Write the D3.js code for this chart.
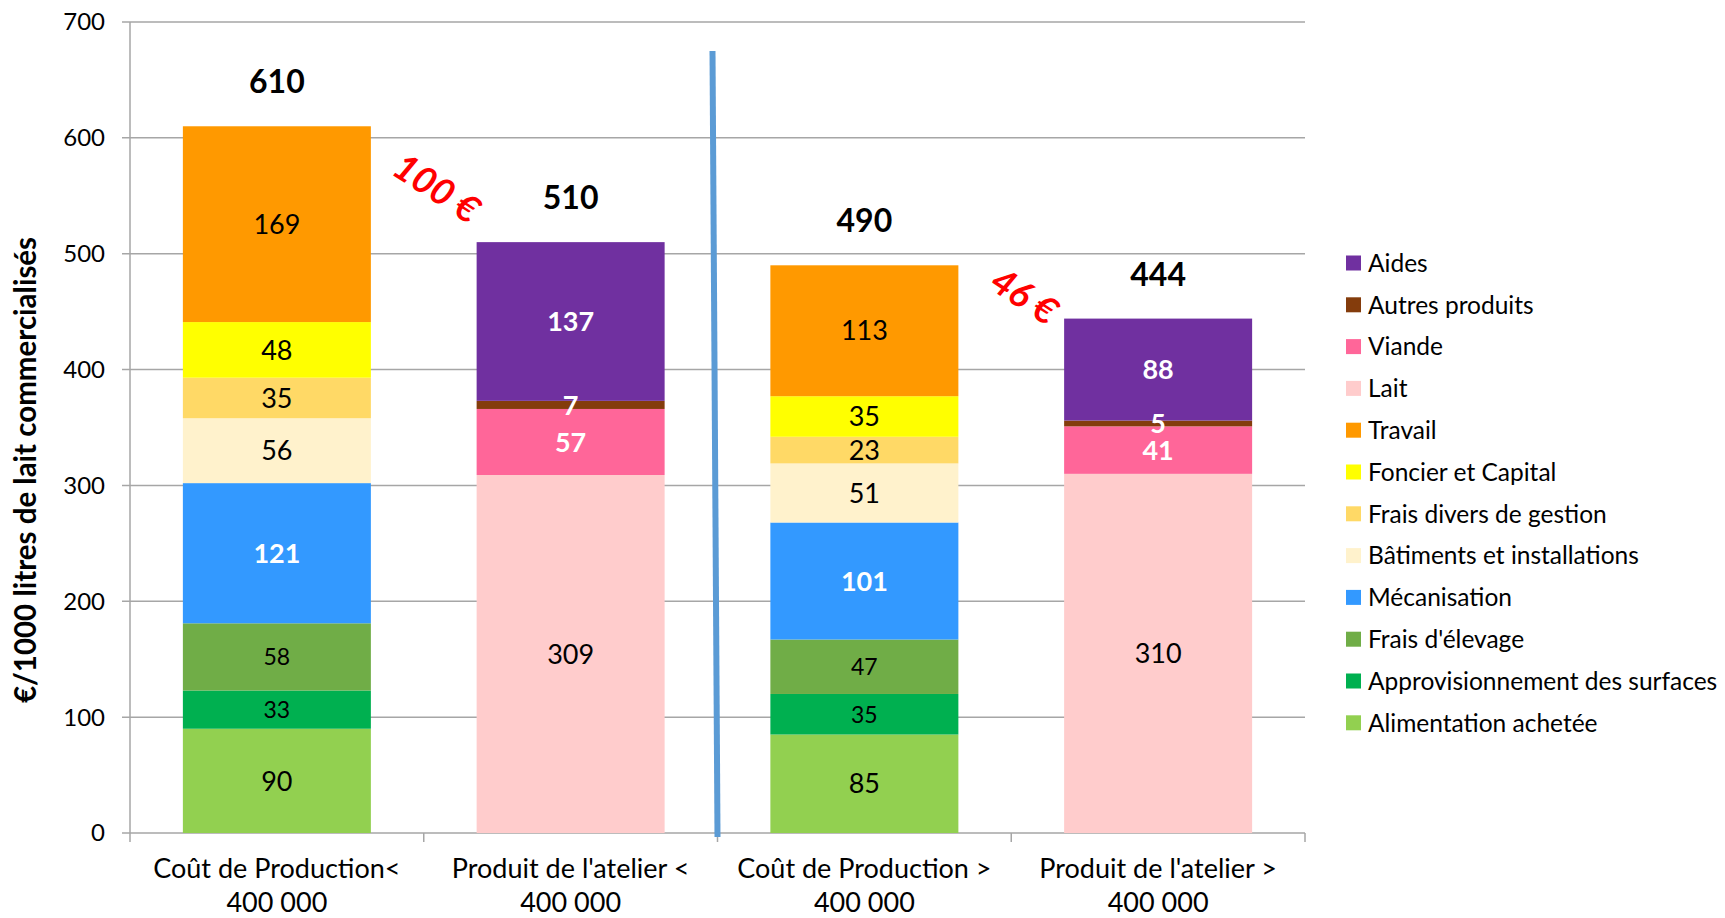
<!DOCTYPE html>
<html>
<head>
<meta charset="utf-8">
<script src="https://cdn.jsdelivr.net/npm/d3@7"></script>
<style>
	body { margin: 0; background: #fff; }
	text { font-family: Lato, "Open Sans", sans-serif; }
</style>
</head>
<body>
<div id="chart"></div>
<script>
// categories (two lines each, split on "|")
var categories = ["Coût de Production<|400 000", "Produit de l'atelier <|400 000", "Coût de Production >|400 000", "Produit de l'atelier >|400 000"];

// series, bottom of the stack first
var seriesNames = ["Alimentation achetée", "Approvisionnement des surfaces", "Frais d'élevage", "Mécanisation",
	"Bâtiments et installations", "Frais divers de gestion", "Foncier et Capital", "Travail",
	"Lait", "Viande", "Autres produits", "Aides"];
var seriesColors = ["#92d050", "#00b050", "#70ad47", "#3399ff", "#fff2cc", "#ffd966", "#ffff00", "#ff9900",
	"#ffcccc", "#ff6699", "#843c0c", "#7030a0"];

var alimentation = [90, 0, 85, 0];
var approvisionnement = [33, 0, 35, 0];
var fraisElevage = [58, 0, 47, 0];
var mecanisation = [121, 0, 101, 0];
var batiments = [56, 0, 51, 0];
var fraisDivers = [35, 0, 23, 0];
var foncier = [48, 0, 35, 0];
var travail = [169, 0, 113, 0];
var lait = [0, 309, 0, 310];
var viande = [0, 57, 0, 41];
var autres = [0, 7, 0, 5];
var aides = [0, 137, 0, 88];

var yTicks = [0, 100, 200, 300, 400, 500, 600, 700];

// labels drawn white/bold, or smaller
var whiteSeries = ["Mécanisation", "Viande", "Autres produits", "Aides"];
var smallSeries = ["Approvisionnement des surfaces", "Frais d'élevage"];

var seriesValues = [alimentation, approvisionnement, fraisElevage, mecanisation, batiments, fraisDivers,
	foncier, travail, lait, viande, autres, aides];

var width = 1725, height = 918;
var margin = {left: 130, right: 420, top: 22, bottom: 85};

var svg = d3.select("#chart").append("svg")
	.attr("width", width)
	.attr("height", height);

var x = d3.scaleBand()
	.domain(categories)
	.range([margin.left, width - margin.right])
	.paddingInner(0.36)
	.paddingOuter(0.18);

var y = d3.scaleLinear()
	.domain([0, 700])
	.range([height - margin.bottom, margin.top]);

// table for the stack
var table = categories.map(function(c, i) {
	var row = {cat: c};
	seriesNames.forEach(function(s, j) { row[s] = seriesValues[j][i]; });
	return row;
});
var stacked = d3.stack().keys(seriesNames)(table);
var totals = table.map(function(r) { return d3.sum(seriesNames, function(s) { return r[s]; }); });

// grid
svg.append("g")
	.selectAll("line")
	.data(yTicks)
	.enter().append("line")
	.attr("x1", margin.left - 8)
	.attr("x2", width - margin.right)
	.attr("y1", d => y(d))
	.attr("y2", d => y(d))
	.attr("stroke", "#a6a6a6")
	.attr("stroke-width", 1.5);

svg.append("line")
	.attr("x1", margin.left).attr("x2", margin.left)
	.attr("y1", y(700)).attr("y2", y(0))
	.attr("stroke", "#a6a6a6").attr("stroke-width", 1.5);

// y tick labels
svg.append("g")
	.selectAll("text")
	.data(yTicks)
	.enter().append("text")
	.attr("x", margin.left - 25)
	.attr("y", d => y(d))
	.attr("dy", "0.35em")
	.attr("text-anchor", "end")
	.style("font-size", "24px")
	.style("fill", "#000")
	.text(d => d);

// x category boundary ticks
var step = x.step();
var bounds = d3.range(categories.length + 1).map(i => margin.left + i * step);
svg.append("g")
	.selectAll("line")
	.data(bounds)
	.enter().append("line")
	.attr("x1", d => d).attr("x2", d => d)
	.attr("y1", y(0)).attr("y2", y(0) + 9)
	.attr("stroke", "#a6a6a6").attr("stroke-width", 1.5);

// bars
var layer = svg.append("g")
	.selectAll("g")
	.data(stacked)
	.enter().append("g")
	.attr("fill", (d, i) => seriesColors[i]);

layer.selectAll("rect")
	.data(d => d.filter(p => p[1] - p[0] > 0))
	.enter().append("rect")
	.attr("x", d => x(d.data.cat))
	.attr("width", x.bandwidth())
	.attr("y", d => y(d[1]))
	.attr("height", d => y(d[0]) - y(d[1]));

// segment labels
stacked.forEach(function(s) {
	var isWhite = whiteSeries.indexOf(s.key) >= 0;
	var isSmall = smallSeries.indexOf(s.key) >= 0;
	svg.append("g")
		.selectAll("text")
		.data(s.filter(p => p[1] - p[0] > 0))
		.enter().append("text")
		.attr("x", d => x(d.data.cat) + x.bandwidth() / 2)
		.attr("y", d => y((d[0] + d[1]) / 2))
		.attr("dy", "0.36em")
		.attr("text-anchor", "middle")
		.style("font-size", isSmall ? "23px" : "27px")
		.style("font-weight", isWhite ? "bold" : "normal")
		.style("fill", isWhite ? "#fff" : "#000")
		.text(d => d[1] - d[0]);
});

// totals
svg.append("g")
	.selectAll("text")
	.data(totals)
	.enter().append("text")
	.attr("x", (d, i) => x(categories[i]) + x.bandwidth() / 2)
	.attr("y", d => y(d) - 33)
	.attr("text-anchor", "middle")
	.style("font-size", "32px")
	.style("font-weight", "bold")
	.style("fill", "#000")
	.text(d => d);

// difference annotations
[[0, 1], [2, 3]].forEach(function(pair) {
	var a = totals[pair[0]], b = totals[pair[1]];
	var cx = bounds[pair[1]] + 13;
	var cy = y((a + b) / 2) + 4;
	svg.append("text")
		.attr("transform", "translate(" + cx + "," + cy + ") rotate(33)")
		.attr("text-anchor", "middle")
		.attr("dy", "0.35em")
		.style("font-size", "37px")
		.style("font-weight", "bold")
		.style("font-style", "italic")
		.style("fill", "#ff0000")
		.text((a - b) + " €");
});

// divider line between the two groups
var mid = bounds[2];
svg.append("line")
	.attr("x1", mid - 5).attr("y1", y(675))
	.attr("x2", mid).attr("y2", y(0) + 4)
	.attr("stroke", "#5b9bd5")
	.attr("stroke-width", 6);

// x labels
var xl = svg.append("g")
	.selectAll("text")
	.data(categories)
	.enter().append("text")
	.attr("text-anchor", "middle")
	.style("font-size", "27px")
	.style("fill", "#000");
xl.each(function(d) {
	var parts = d.split("|");
	var t = d3.select(this);
	parts.forEach(function(p, k) {
		t.append("tspan")
			.attr("x", x(d) + x.bandwidth() / 2)
			.attr("y", y(0) + 45 + k * 34)
			.text(p);
	});
});

// y title
svg.append("text")
	.attr("transform", "translate(36,470) rotate(-90)")
	.attr("text-anchor", "middle")
	.style("font-size", "29.5px")
	.style("font-weight", "bold")
	.style("fill", "#000")
	.text("€/1000 litres de lait commercialisés");

// legend, top = last series
var legendItems = seriesNames.map((n, i) => ({name: n, color: seriesColors[i]})).reverse();
var legend = svg.append("g")
	.selectAll("g")
	.data(legendItems)
	.enter().append("g")
	.attr("transform", (d, i) => "translate(1346," + (263 + i * 41.8) + ")");
legend.append("rect")
	.attr("x", 0).attr("y", -7.5)
	.attr("width", 15).attr("height", 15)
	.attr("fill", d => d.color);
legend.append("text")
	.attr("x", 22)
	.attr("dy", "0.36em")
	.style("font-size", "24.5px")
	.style("fill", "#000")
	.text(d => d.name);
</script>
</body>
</html>
